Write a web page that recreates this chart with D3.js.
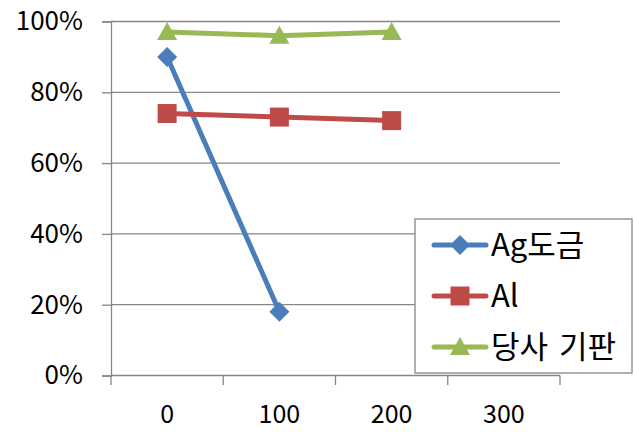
<!DOCTYPE html>
<html><head><meta charset="utf-8">
<script src="https://cdn.jsdelivr.net/npm/d3@7"></script>
<style>body{margin:0;background:#fff}svg{display:block}text{font-family:"Noto Sans CJK KR","Noto Sans",sans-serif;fill:#000}</style>
</head><body>
<script>
const categories = ["0","100","200","300"];
const seriesNames = ["Ag도금","Al","당사 기판"];
const agValues = [0.90, 0.18, null, null];
const alValues = [0.74, 0.73, 0.72, null];
const dangsaValues = [0.97, 0.96, 0.97, null];
const yTicks = [0,0.2,0.4,0.6,0.8,1.0];
const colors = ["#4A7EBB","#BE4B48","#98B954"];
const shapes = ["diamond","square","triangle"];

const W=634,H=433;
const svg=d3.select("body").append("svg").attr("width",W).attr("height",H);
const x=d3.scaleBand().domain(categories).range([111,560]);
const y=d3.scaleLinear().domain([0,1]).range([375.5,21.5]);

// gridlines
svg.append("g").selectAll("line").data(yTicks.filter(d=>d>0)).join("line")
 .attr("x1",111).attr("x2",560).attr("y1",d=>y(d)).attr("y2",d=>y(d))
 .attr("stroke","#868686").attr("stroke-width",1.3);

const ya=svg.append("g").attr("transform","translate(111,0)")
 .call(d3.axisLeft(y).tickValues(yTicks).tickFormat(d3.format(".0%")).tickSize(9).tickPadding(19));
const xa=svg.append("g").attr("transform","translate(0,375.5)")
 .call(d3.axisBottom(x).tickSize(0).tickPadding(30));
// ticks between categories
svg.append("g").selectAll("line").data(d3.range(categories.length+1)).join("line")
 .attr("x1",i=>111+i*x.step()).attr("x2",i=>111+i*x.step()).attr("y1",375.5).attr("y2",385)
 .attr("stroke","#868686").attr("stroke-width",1.3);
[ya,xa].forEach(a=>{a.select(".domain").attr("stroke","#868686").attr("stroke-width",1.3);
 a.selectAll(".tick line").attr("stroke","#868686").attr("stroke-width",1.3);
 a.selectAll("text").style("font-size","25px").attr("font-family",null);});
ya.selectAll("text").style("font-size","26px");
xa.select(".domain").attr("d","M111,0H560");

function marker(sel,shape,color){
 if(shape==="diamond") sel.append("path").attr("d","M0,-10L10,0L0,10L-10,0Z").attr("fill",color);
 else if(shape==="square") sel.append("rect").attr("x",-9.5).attr("y",-9.5).attr("width",19).attr("height",19).attr("fill",color);
 else sel.append("path").attr("d","M0,-10L10,8L-10,8Z").attr("fill",color);
}
const allSeries=[agValues,alValues,dangsaValues];
allSeries.forEach((vals,i)=>{
 const pts=categories.map((c,j)=>({c,v:vals[j]})).filter(d=>d.v!=null);
 svg.append("path").datum(pts).attr("fill","none").attr("stroke",colors[i]).attr("stroke-width",5)
  .attr("stroke-linejoin","round")
  .attr("d",d3.line().x(d=>x(d.c)+x.bandwidth()/2).y(d=>y(d.v)));
 pts.forEach(d=>{const g=svg.append("g").attr("transform",`translate(${x(d.c)+x.bandwidth()/2},${y(d.v)})`);marker(g,shapes[i],colors[i]);});
});

// legend
const lg=svg.append("g");
lg.append("rect").attr("x",415).attr("y",219).attr("width",217).attr("height",154)
 .attr("fill","#fff").attr("stroke","#868686").attr("stroke-width",1.3);
seriesNames.forEach((n,i)=>{
 const cy=245+i*51;
 lg.append("line").attr("x1",434).attr("x2",486).attr("y1",cy).attr("y2",cy)
  .attr("stroke",colors[i]).attr("stroke-width",5).attr("stroke-linecap","round");
 const g=lg.append("g").attr("transform",`translate(460,${cy})`);marker(g,shapes[i],colors[i]);
 lg.append("text").attr("x",491).attr("y",cy).attr("dy","0.36em").style("font-size","31px").style("word-spacing","4px").text(n);
});
</script>
</body></html>
